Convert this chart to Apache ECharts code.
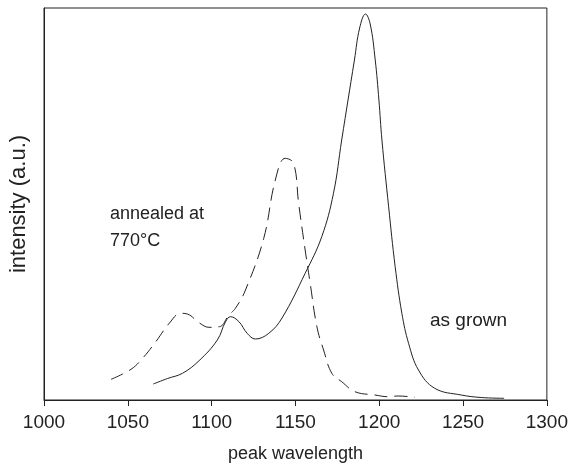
<!DOCTYPE html>
<html>
<head>
<meta charset="utf-8">
<script src="https://cdn.jsdelivr.net/npm/echarts@6/dist/echarts.min.js"></script>
<style>html,body{margin:0;padding:0;background:#fff}#c{width:571px;height:471px}</style>
</head>
<body>
<div id="c"></div>
<script>
// as grown (solid)
const grownX = [1065.2,1073.7,1082.6,1092.5,1103.4,1108.3,1111.3,1116.3,1121.2,1126.1,1134.1,1142,1155.8,1165.7,1172.7,1177.6,1185.2,1188.3,1191.8,1194.6,1197.6,1199.8,1201.6,1205.6,1209.5,1213.5,1217.5,1223.4,1233.1,1248.9,1260.8,1274.5];
const grownY = [16,21.5,26.7,39.3,60,78.3,83.3,78.3,66.7,61,66.7,82,126.7,163.3,206.7,260,340,372,386,376,340,300,260,193.3,133.3,86.7,56.7,30,11.7,5,2.5,1.7];
// annealed at 770°C (dashed)
const annX = [1040,1051.9,1058.8,1066.7,1074.7,1081.6,1085.5,1092.5,1098.4,1104.7,1110.3,1114.2,1120.2,1131.1,1138,1143.9,1148.9,1151.9,1155.8,1158.8,1162.8,1166.8,1171.7,1177.6,1185.5,1197.4,1205.4,1211.3,1221.2];
const annY = [20.7,30.7,41.7,58.3,76.7,86.7,86,77.3,72.7,73.3,85,91.7,110,161.7,220,241.7,236.7,196.7,150,116.7,73.3,50,26.7,18.3,8.3,5,3.3,4,2.7];
const xTicks = [1000,1050,1100,1150,1200,1250,1300];

const zip = (a,b)=>a.map((v,i)=>[v,b[i]]);
const FONT = '"Liberation Sans", Arial, sans-serif';
const chart = echarts.init(document.getElementById('c'));
chart.setOption({
  animation:false,
  grid:{left:40,right:23,top:8,bottom:71,show:true,borderColor:'#222',borderWidth:1},
  xAxis:{type:'value',min:xTicks[0],max:xTicks[xTicks.length-1],interval:50,
    name:'peak wavelength',nameLocation:'middle',nameGap:45,
    nameTextStyle:{fontFamily:FONT,fontSize:18,color:'#222'},
    axisLine:{show:true,lineStyle:{color:'#222',width:1}},
    axisTick:{show:true,length:6,lineStyle:{color:'#222'}},
    axisLabel:{margin:13,fontFamily:FONT,fontSize:19,color:'#222',formatter:v=>String(v)},
    splitLine:{show:false}},
  yAxis:{type:'value',min:0,max:392,
    name:'intensity (a.u.)',nameLocation:'middle',nameGap:14,
    nameTextStyle:{fontFamily:FONT,fontSize:22,color:'#222'},
    axisLine:{show:true,lineStyle:{color:'#222'}},axisTick:{show:false},axisLabel:{show:false},splitLine:{show:false}},
  series:[
    {type:'line',data:zip(grownX,grownY),smooth:0.4,showSymbol:false,lineStyle:{color:'#222',width:1}},
    {type:'line',data:zip(annX,annY),smooth:0.4,showSymbol:false,lineStyle:{color:'#222',width:1,type:[13,7]}}
  ],
  graphic:[
    {type:'text',left:110,top:201,style:{text:'annealed at\n770°C',font:'18px '+FONT,fill:'#222',lineHeight:27}},
    {type:'text',left:430,top:311,style:{text:'as grown',font:'19px '+FONT,fill:'#222'}}
  ]
});
</script>
</body>
</html>
